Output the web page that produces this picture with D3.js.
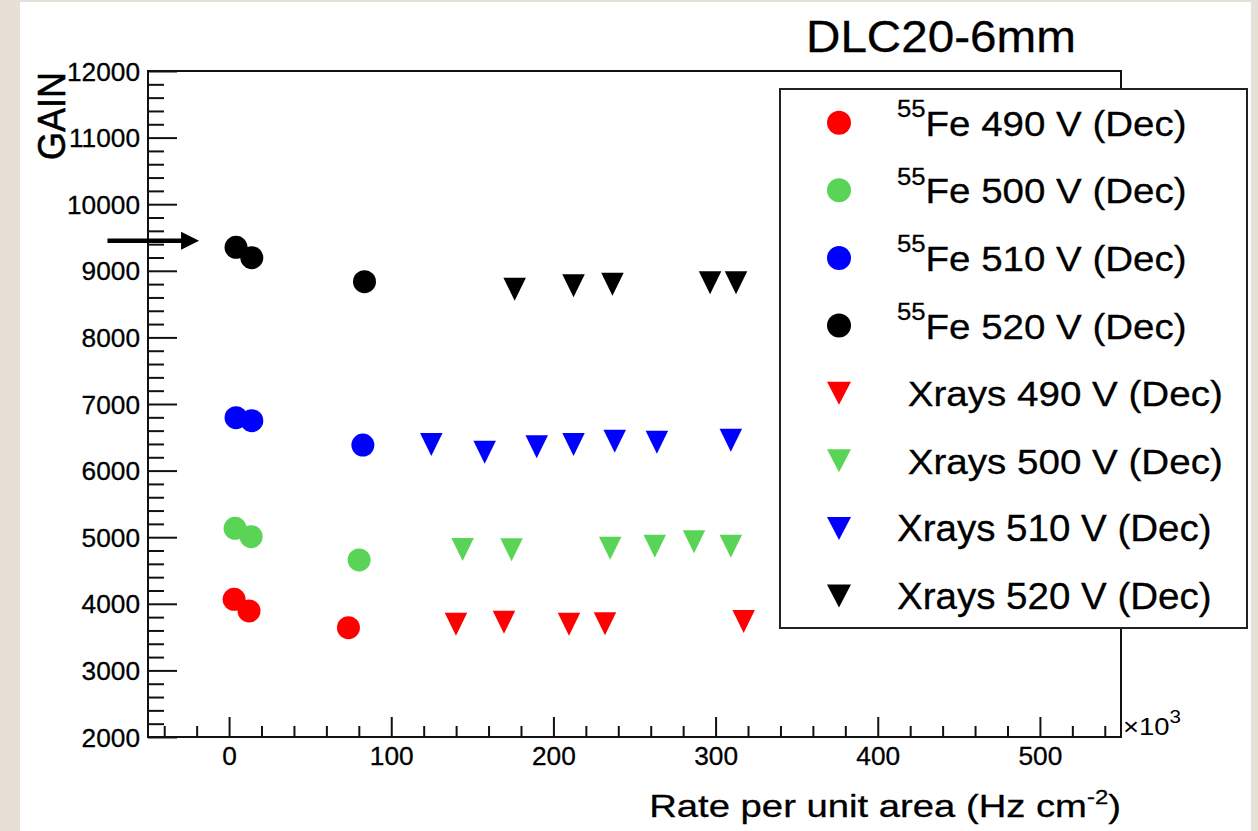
<!DOCTYPE html>
<html><head><meta charset="utf-8">
<script src="https://cdn.jsdelivr.net/npm/d3@7"></script>
<style>
body{margin:0;background:#e6e0d6;}
svg{display:block;}
text{font-family:"Liberation Sans", Arial, Helvetica, sans-serif; fill:#000; white-space:pre;}
</style>
</head><body>
<svg id="c" width="1258" height="831"></svg>
<script>
// ---------------- data ----------------
const fe490X = [3.1, 12.3, 73.6];
const fe490Y = [4068, 3892, 3641];
const fe500X = [3.7, 13.6, 80.2];
const fe500Y = [5134, 5008, 4658];
const fe510X = [4.3, 14.0, 82.5];
const fe510Y = [6794, 6749, 6384];
const fe520X = [4.3, 14.0, 83.5];
const fe520Y = [9353, 9197, 8836];
const xr490X = [139.9, 169.5, 209.6, 231.8, 317.3];
const xr490Y = [3692, 3722, 3692, 3700, 3734];
const xr500X = [144.0, 174.2, 235.0, 262.5, 286.7, 309.4];
const xr500Y = [4815, 4811, 4833, 4863, 4932, 4863];
const xr510X = [124.7, 157.6, 189.7, 212.4, 237.8, 263.8, 309.4];
const xr510Y = [6392, 6276, 6359, 6392, 6441, 6426, 6455];
const xr520X = [176.1, 212.4, 236.4, 296.6, 312.6];
const xr520Y = [8724, 8775, 8799, 8820, 8820];

const seriesLabels = ["Fe 490 V (Dec)", "Fe 500 V (Dec)", "Fe 510 V (Dec)", "Fe 520 V (Dec)",
  " Xrays 490 V (Dec)", " Xrays 500 V (Dec)", "Xrays 510 V (Dec)", "Xrays 520 V (Dec)"];
const seriesSup = ["55", "55", "55", "55", "", "", "", ""];
const seriesColors = ["#ff0000", "#5ad456", "#0000ff", "#000000", "#ff0000", "#5ad456", "#0000ff", "#000000"];
const seriesShapes = ["circle", "circle", "circle", "circle", "tri", "tri", "tri", "tri"];
const seriesXs = [fe490X, fe500X, fe510X, fe520X, xr490X, xr500X, xr510X, xr520X];
const seriesYs = [fe490Y, fe500Y, fe510Y, fe520Y, xr490Y, xr500Y, xr510Y, xr520Y];

const xMajorTicks = [0, 100, 200, 300, 400, 500];
const yMajorTicks = [2000, 3000, 4000, 5000, 6000, 7000, 8000, 9000, 10000, 11000, 12000];
const xDomain = [-50, 550];
const yDomain = [2000, 12000];
const titleText = "DLC20-6mm";
const yTitle = "GAIN";
const arrowFrom = [-75, 9450], arrowTo = [-18.5, 9450];

// ---------------- layout ----------------
const svg = d3.select("#c");
svg.append("rect").attr("x",0).attr("y",0).attr("width",1258).attr("height",831).attr("fill","#e6e0d6");
svg.append("rect").attr("x",20).attr("y",2).attr("width",1231).attr("height",829).attr("fill","#ffffff");

const L = 148, R = 1121, T = 71, B = 737;
const x = d3.scaleLinear().domain(xDomain).range([L, R]);
const y = d3.scaleLinear().domain(yDomain).range([B, T]);

function fit(el, ax, target) {
  const w = el.node().getComputedTextLength();
  const s = target / w;
  el.attr("transform", `translate(${ax},0) scale(${s},1) translate(${-ax},0)`);
}

// minor ticks
const xMinor = d3.range(-40, 551, 20).filter(v => v % 100 !== 0);
const yMinor = d3.range(2000, 12001, 200).filter(v => v % 1000 !== 0);

svg.append("g").attr("transform", `translate(0,${B})`)
  .call(d3.axisBottom(x).tickValues(xMinor).tickFormat("").tickSizeInner(-11).tickSizeOuter(0))
  .call(g => g.select(".domain").remove())
  .selectAll("line").attr("stroke","#111").attr("stroke-width",2);
svg.append("g").attr("transform", `translate(${L},0)`)
  .call(d3.axisLeft(y).tickValues(yMinor).tickFormat("").tickSizeInner(-16).tickSizeOuter(0))
  .call(g => g.select(".domain").remove())
  .selectAll("line").attr("stroke","#111").attr("stroke-width",2);

// major ticks + labels
const gx = svg.append("g").attr("transform", `translate(0,${B})`)
  .call(d3.axisBottom(x).tickValues(xMajorTicks).tickFormat(d3.format("d")).tickSizeInner(-20).tickSizeOuter(0).tickPadding(10));
gx.select(".domain").remove();
gx.selectAll("line").attr("stroke","#111").attr("stroke-width",2);
gx.selectAll("text").attr("font-size",25.5).attr("fill","#000")
  .attr("font-family",'"Liberation Sans", Arial, sans-serif')
  .attr("stroke","#000").attr("stroke-width",0.3)
  .attr("transform","scale(1.03,1)");

const gy = svg.append("g").attr("transform", `translate(${L},0)`)
  .call(d3.axisLeft(y).tickValues(yMajorTicks).tickFormat(d3.format("d")).tickSizeInner(-29).tickSizeOuter(0).tickPadding(8));
gy.select(".domain").remove();
gy.selectAll("line").attr("stroke","#111").attr("stroke-width",2);
gy.selectAll("text").attr("font-size",25.5).attr("fill","#000").attr("dy","0.36em")
  .attr("font-family",'"Liberation Sans", Arial, sans-serif')
  .attr("stroke","#000").attr("stroke-width",0.3)
  .attr("transform","translate(-8,0) scale(1.03,1) translate(8,0)");

// frame
svg.append("rect").attr("x",L).attr("y",T).attr("width",R-L).attr("height",B-T)
  .attr("fill","none").attr("stroke","#111").attr("stroke-width",2);

// x10^3
const mult = svg.append("text").attr("x", R + 2).attr("y", 735).attr("font-size", 24);
mult.append("tspan").text("\u00d710");
mult.append("tspan").attr("font-size", 18).attr("dy", -12).text("3");
fit(mult, R + 2, 58);

// axis titles
const xt = svg.append("text").attr("x", R).attr("y", 816.7).attr("font-size", 32)
  .attr("text-anchor","end").attr("stroke","#000").attr("stroke-width",0.3);
xt.append("tspan").text("Rate per unit area (Hz cm");
xt.append("tspan").attr("font-size", 20).attr("dy", -13).text("-2");
xt.append("tspan").attr("dy", 13).text(")");
{
  const w = xt.node().getComputedTextLength();
  const s = 472 / w;
  xt.attr("transform", `translate(${R},0) scale(${s},1) translate(${-R},0)`);
}

const yt = svg.append("text").attr("x",0).attr("y",0).attr("font-size",39).attr("text-anchor","end")
  .attr("stroke","#000").attr("stroke-width",0.6).text(yTitle);
{
  const w = yt.node().getComputedTextLength();
  yt.attr("transform", `translate(65,72) rotate(-90) scale(${88 / w},1)`);
}

// title
const tt = svg.append("text").attr("x", 806).attr("y", 51.7).attr("font-size", 44)
  .attr("stroke","#000").attr("stroke-width",0.3).text(titleText);
fit(tt, 806, 270);

// arrow
svg.append("line").attr("x1", x(arrowFrom[0])).attr("y1", y(arrowFrom[1]))
  .attr("x2", x(arrowTo[0]) - 16).attr("y2", y(arrowTo[1]))
  .attr("stroke","#000").attr("stroke-width",4.5);
{
  const tx = x(arrowTo[0]), ty = y(arrowTo[1]);
  svg.append("path").attr("d", `M${tx},${ty} L${tx-18},${ty-9} L${tx-18},${ty+9} Z`).attr("fill","#000");
}

// markers
const triPath = (w, h) => `M${-w/2},${-h/2} L${w/2},${-h/2} L0,${h/2} Z`;
function drawMarker(g, shape, color, cx, cy, big) {
  if (shape === "circle") {
    g.append("circle").attr("cx",cx).attr("cy",cy).attr("r", big ? 12 : 11.5).attr("fill",color);
  } else {
    g.append("path").attr("d", triPath(big ? 24 : 22.5, 23)).attr("transform",`translate(${cx},${cy})`).attr("fill",color);
  }
}
const gp = svg.append("g");
seriesXs.forEach((xs, i) => {
  xs.forEach((xv, j) => {
    drawMarker(gp, seriesShapes[i], seriesColors[i], x(xv), y(seriesYs[i][j]), false);
  });
});

// legend
const lg = svg.append("g");
lg.append("rect").attr("x",780).attr("y",89).attr("width",467).attr("height",539)
  .attr("fill","#fff").attr("stroke","#222").attr("stroke-width",2);
const rowY = d3.scaleLinear().domain([0, 7]).range([122.7, 596]);
const legendEnds = [1186.7, 1186.7, 1186.7, 1186.7, 1223, 1223, 1211.7, 1211.7];
seriesLabels.forEach((lab, i) => {
  const cy = rowY(i);
  drawMarker(lg, seriesShapes[i], seriesColors[i], 839, cy, true);
  const t = lg.append("text").attr("x", 897).attr("y", cy + 13).attr("font-size", 36)
    .attr("stroke","#000").attr("stroke-width",0.3);
  if (seriesSup[i]) {
    t.append("tspan").attr("font-size", 24).attr("dy", -18.5).text(seriesSup[i]);
    t.append("tspan").attr("dy", 18.5).text(lab);
  } else {
    t.append("tspan").text(lab);
  }
  fit(t, 897, legendEnds[i] - 897);
});
</script>
</body></html>
